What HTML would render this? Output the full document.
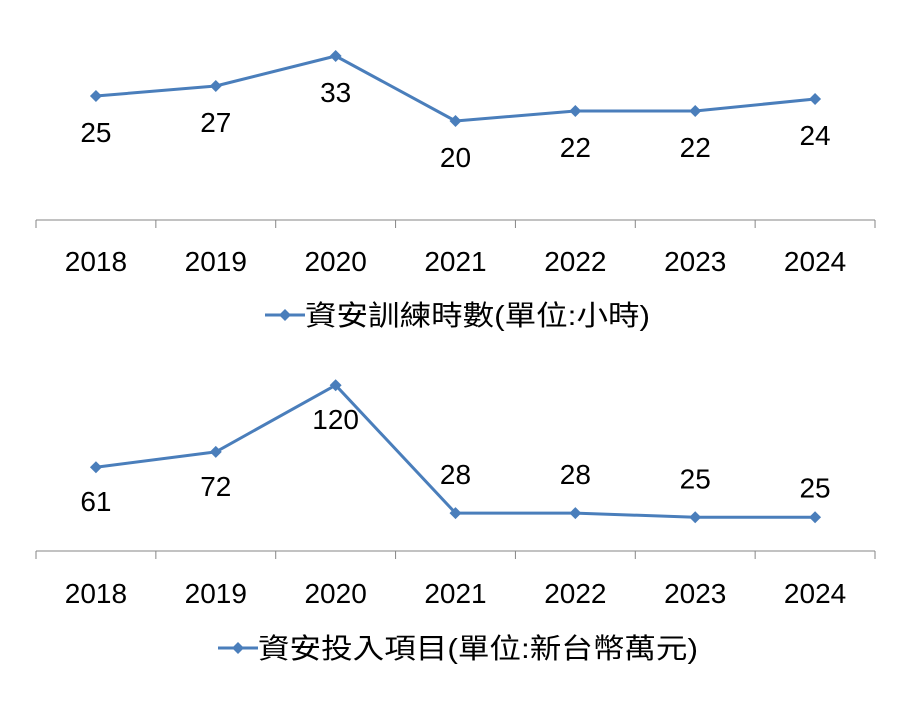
<!DOCTYPE html>
<html><head><meta charset="utf-8">
<style>
html,body{margin:0;padding:0;background:#fff;}
svg{display:block;font-family:"Liberation Sans","Noto Sans CJK TC",sans-serif;}
</style></head>
<body>
<svg id="c" width="909" height="706" viewBox="0 0 909 706"></svg>
<script>
const categories = ["2018","2019","2020","2021","2022","2023","2024"];
const trainingHours = [25,27,33,20,22,22,24.4];
const investment = [61,72,120,28,28,25,25];
const investLabelSide = [1,1,1,-1,-1,-1,-1];
const legend1 = "資安訓練時數(單位:小時)";
const legend2 = "資安投入項目(單位:新台幣萬元)";

const svg = document.getElementById('c');
const NS = "http://www.w3.org/2000/svg";
const COLOR = "#4a7ebb";
function mk(tag, attrs, parent){
  const e = document.createElementNS(NS, tag);
  for (const k in attrs) e.setAttribute(k, attrs[k]);
  (parent||svg).appendChild(e);
  return e;
}
const x0 = 36, x1 = 875;
const band = (x1 - x0) / categories.length;
function xPos(i){ return x0 + band*(i+0.5); }

function drawChart(name, values, axisY, scale, labelOffsets, yearY, legendText, legX, legY){
  const g = mk('g', {});
  
  
  const yPos = v => axisY + 1 - v*scale;
  const ax = mk('line', {x1:x0, x2:x1, y1:axisY, y2:axisY, stroke:"#868686", "stroke-width":1}, g);
  
  
  for (let i=0;i<=categories.length;i++){
    const tx = x0 + band*i;
    const t = mk('line', {x1:tx, x2:tx, y1:axisY, y2:axisY+8, stroke:"#868686", "stroke-width":1}, g);
    
    
  }
  categories.forEach((c,i)=>{
    const t = mk('text', {x:xPos(i), y:yearY+10, "text-anchor":"middle", "font-size":28, fill:"#000"}, g);
    t.textContent = c;
    
    
  });
  const pts = values.map((v,i)=>xPos(i)+","+yPos(v)).join(" ");
  const pl = mk('polyline', {points:pts, fill:"none", stroke:COLOR, "stroke-width":3, "stroke-linejoin":"round"}, g);
  
  
  values.forEach((v,i)=>{
    const cx = xPos(i), cy = yPos(v);
    const d = mk('polygon', {points:`${cx},${cy-6} ${cx+6},${cy} ${cx},${cy+6} ${cx-6},${cy}`, fill:COLOR}, g);
    
    
    const lb = mk('text', {x:cx, y:cy+labelOffsets[i]+10, "text-anchor":"middle", "font-size":28, fill:"#000"}, g);
    lb.textContent = Math.round(v);
    
    
  });
  const lg = mk('g', {}, g);
  
  
  mk('line', {x1:legX, x2:legX+40, y1:legY, y2:legY, stroke:COLOR, "stroke-width":3}, lg);
  const m = legX+20;
  mk('polygon', {points:`${m},${legY-6} ${m+6},${legY} ${m},${legY+6} ${m-6},${legY}`, fill:COLOR}, lg);
  const lt = mk('text', {x:legX+40, y:legY+10, "font-size":28, "textLength":legendText.length>13?440:345, "lengthAdjust":"spacingAndGlyphs", fill:"#000"}, lg);
  lt.textContent = legendText;
  
  
}

drawChart('training-hours-chart', trainingHours, 220, 5, trainingHours.map(()=>36), 261, legend1, 265, 315);
const offs2 = investLabelSide.map((s,i)=> s>0 ? 34 : (i===investLabelSide.length-1 ? -30 : -39));
drawChart('investment-chart', investment, 551, 1.39, offs2, 593, legend2, 218, 648);
</script>
</body></html>
